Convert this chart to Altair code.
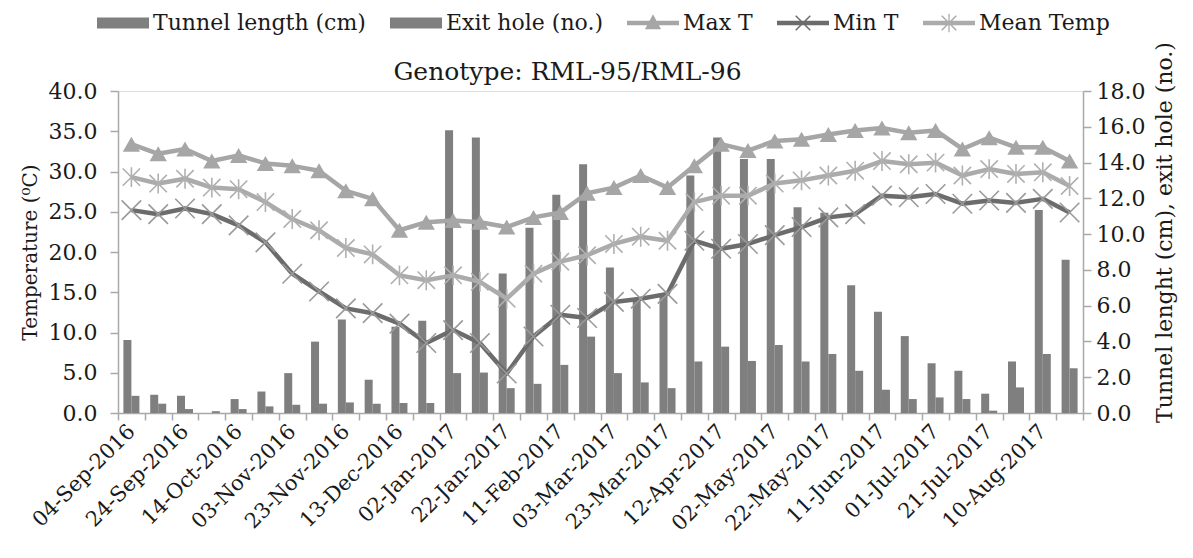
import json
import altair as alt
import pandas as pd

# ---------------- data ----------------
dates = [
    "04-Sep-2016", "14-Sep-2016", "24-Sep-2016", "04-Oct-2016", "14-Oct-2016", "24-Oct-2016",
    "03-Nov-2016", "13-Nov-2016", "23-Nov-2016", "03-Dec-2016", "13-Dec-2016", "23-Dec-2016",
    "02-Jan-2017", "12-Jan-2017", "22-Jan-2017", "01-Feb-2017", "11-Feb-2017", "21-Feb-2017",
    "03-Mar-2017", "13-Mar-2017", "23-Mar-2017", "02-Apr-2017", "12-Apr-2017", "22-Apr-2017",
    "02-May-2017", "12-May-2017", "22-May-2017", "01-Jun-2017", "11-Jun-2017", "21-Jun-2017",
    "01-Jul-2017", "11-Jul-2017", "21-Jul-2017", "31-Jul-2017", "10-Aug-2017", "20-Aug-2017",
]
labeled_dates = [
    "04-Sep-2016", "24-Sep-2016", "14-Oct-2016", "03-Nov-2016", "23-Nov-2016", "13-Dec-2016",
    "02-Jan-2017", "22-Jan-2017", "11-Feb-2017", "03-Mar-2017", "23-Mar-2017", "12-Apr-2017",
    "02-May-2017", "22-May-2017", "11-Jun-2017", "01-Jul-2017", "21-Jul-2017", "10-Aug-2017",
]
max_t = [33.4, 32.2, 32.8, 31.3, 32.0, 31.0, 30.7, 30.1, 27.6, 26.6, 22.7, 23.7,
         23.9, 23.7, 23.1, 24.3, 24.9, 27.3, 28.0, 29.5, 28.0, 30.7, 33.4, 32.6,
         33.8, 34.0, 34.6, 35.1, 35.4, 34.8, 35.1, 32.8, 34.2, 33.0, 33.0, 31.3]
min_t = [25.2, 24.7, 25.4, 24.7, 23.3, 21.2, 17.3, 15.1, 13.0, 12.4, 11.1, 8.7,
         10.3, 8.7, 4.9, 9.5, 12.2, 11.8, 13.8, 14.2, 14.8, 21.4, 20.4, 21.0,
         22.1, 23.1, 24.3, 24.7, 27.0, 26.8, 27.2, 26.0, 26.4, 26.1, 26.6, 24.9]
mean_t = [29.3, 28.5, 29.1, 28.0, 27.8, 26.2, 24.1, 22.7, 20.5, 19.7, 17.1, 16.5,
          17.1, 16.3, 14.2, 17.3, 18.8, 19.6, 21.0, 21.9, 21.4, 26.2, 27.0, 27.0,
          28.5, 28.9, 29.5, 30.1, 31.3, 30.9, 31.1, 29.5, 30.3, 29.7, 29.9, 28.2]
tunnel_len = [4.08, 1.02, 0.96, 0.0, 0.78, 1.20, 2.23, 3.99, 5.23, 1.86, 4.82, 5.16,
              15.8, 15.4, 7.8, 10.35, 12.2, 13.9, 8.13, 6.31, 6.59, 13.27, 15.4, 14.2,
              14.2, 11.5, 11.2, 7.14, 5.66, 4.30, 2.78, 2.36, 1.08, 2.88, 11.35, 8.57]
exit_hole = [0.96, 0.52, 0.22, 0.10, 0.22, 0.37, 0.46, 0.52, 0.59, 0.52, 0.56, 0.56,
             2.23, 2.26, 1.39, 1.63, 2.69, 4.27, 2.23, 1.71, 1.39, 2.88, 3.71, 2.91,
             3.80, 2.88, 3.30, 2.36, 1.30, 0.78, 0.87, 0.78, 0.13, 1.43, 3.30, 2.50]
temp_ticks = [0, 5, 10, 15, 20, 25, 30, 35, 40]
bar_ticks = [0, 2, 4, 6, 8, 10, 12, 14, 16, 18]

bar_names = ["Tunnel length (cm)", "Exit hole (no.)"]
line_names = ["Max T", "Min T", "Mean Temp"]
series_names = bar_names + line_names
series_colors = ["#7f7f7f", "#7f7f7f", "#a6a6a6", "#6c6c6c", "#ababab"]

bars_df = pd.DataFrame({
    "date": dates + dates,
    "series": [bar_names[0]] * len(dates) + [bar_names[1]] * len(dates),
    "value": tunnel_len + exit_hole,
})
lines_df = pd.DataFrame({
    "date": dates * 3,
    "series": [line_names[0]] * len(dates) + [line_names[1]] * len(dates) + [line_names[2]] * len(dates),
    "value": max_t + min_t + mean_t,
})

# ---------------- style ----------------
FONT = "DejaVu Serif"
TXT = "#1a1a1a"
AXC = "#a9a9a9"

label_expr = "indexof(" + json.dumps(labeled_dates) + ", datum.value) >= 0 ? datum.value : ''"

x_enc = alt.X(
    "date:N", sort=dates, title=None,
    scale=alt.Scale(paddingInner=0, paddingOuter=0),
    axis=alt.Axis(
        labelExpr=label_expr, labelAngle=315, labelAlign="right", labelBaseline="middle",
        labelPadding=8, labelFont=FONT, labelFontSize=21, labelColor=TXT,
        labelOverlap=False, labelBound=False, labelLimit=300,
        tickBand="extent", tickSize=7, tickColor=AXC, tickWidth=1.5,
        domainColor=AXC, domainWidth=1.5, grid=False,
    ),
)

y_temp = alt.Y(
    "value:Q",
    scale=alt.Scale(domain=[0, 40], nice=False),
    axis=alt.Axis(
        orient="left", values=temp_ticks, format=".1f", title="Temperature (⁰C)",
        titleFont=FONT, titleFontSize=20, titleFontWeight="normal", titleColor=TXT,
        titlePadding=8, labelFont=FONT, labelFontSize=22, labelColor=TXT, labelPadding=13,
        tickSize=8, tickColor=AXC, tickWidth=1.5, domainColor=AXC, domainWidth=1.5, grid=False,
    ),
)

y_bar = alt.Y(
    "value:Q",
    scale=alt.Scale(domain=[0, 18], nice=False),
    axis=alt.Axis(
        orient="right", values=bar_ticks, format=".1f", title="Tunnel lenght (cm), exit hole (no.)",
        titleFont=FONT, titleFontSize=22, titleFontWeight="normal", titleColor=TXT,
        titleAngle=270, titleBaseline="top", titlePadding=10, titleY=141,
        labelFont=FONT, labelFontSize=22, labelColor=TXT, labelPadding=5,
        tickSize=8, tickColor=AXC, tickWidth=1.5, domainColor=AXC, domainWidth=1.5, grid=False,
    ),
)

# legend symbols (unit box = symbol width)
p_bar = "M-1,-0.21H1V0.21H-1Z"
p_max = "M-1,-0.09H1V0.09H-1ZM0,-0.34L0.31,0.24H-0.31Z"
p_min = ("M-1,-0.09H1V0.09H-1Z"
         "M-0.3,-0.26L-0.26,-0.3L0.3,0.26L0.26,0.3Z"
         "M0.26,-0.3L0.3,-0.26L-0.26,0.3L-0.3,0.26Z")
p_mean = ("M-1,-0.09H1V0.09H-1Z"
          "M-0.3,-0.26L-0.26,-0.3L0.3,0.26L0.26,0.3Z"
          "M0.26,-0.3L0.3,-0.26L-0.26,0.3L-0.3,0.26Z"
          "M-0.025,-0.36L0.025,-0.36L0.025,0.36L-0.025,0.36Z")
shape_expr = (
    f"datum.value === 'Max T' ? '{p_max}' : "
    f"datum.value === 'Min T' ? '{p_min}' : "
    f"datum.value === 'Mean Temp' ? '{p_mean}' : '{p_bar}'"
)

legend = alt.Legend(
    title=None, orient="none", legendX=-21, legendY=-94, direction="horizontal", columns=5,
    symbolSize=2704, labelFont=FONT, labelFontSize=22, labelColor=TXT, labelOffset=4,
    columnPadding=24, padding=0, offset=0, labelLimit=400,
    symbolType={"expr": shape_expr},
    symbolFillColor={"expr": "scale('color', datum.value)"},
    symbolStrokeWidth=0, symbolOpacity=1,
)

color_enc = alt.Color(
    "series:N", scale=alt.Scale(domain=series_names, range=series_colors), legend=legend
)

bars = alt.Chart(bars_df).mark_bar().encode(
    x=x_enc,
    xOffset=alt.XOffset("series:N", sort=bar_names,
                        scale=alt.Scale(paddingInner=0, paddingOuter=0.675)),
    y=y_bar,
    color=color_enc,
)

lines = alt.Chart(lines_df).mark_line(strokeWidth=4.5, strokeJoin="round").encode(
    x=x_enc, y=y_temp, color=color_enc, detail="series:N",
)

x_marker = "M-1,-1L1,1M-1,1L1,-1"
ast_marker = "M-1,-1L1,1M-1,1L1,-1M0,-1.15L0,1.15"

tri = alt.Chart(lines_df).transform_filter(alt.datum.series == "Max T").mark_point(
    shape="triangle-up", filled=True, size=300, color="#a6a6a6", opacity=1
).encode(x=x_enc, y=y_temp)

xs = alt.Chart(lines_df).transform_filter(alt.datum.series == "Min T").mark_point(
    shape=x_marker, filled=False, size=380, color="#9a9a9a", strokeWidth=1.6, opacity=1
).encode(x=x_enc, y=y_temp)

stars = alt.Chart(lines_df).transform_filter(alt.datum.series == "Mean Temp").mark_point(
    shape=ast_marker, filled=False, size=300, color="#b0b0b0", strokeWidth=1.6, opacity=1
).encode(x=x_enc, y=y_temp)

temps = alt.layer(lines, xs, stars, tri)

chart = alt.layer(bars, temps).resolve_scale(y="independent").properties(
    width=965, height=322,
    title=alt.Title("Genotype: RML-95/RML-96", font=FONT, fontSize=25, fontWeight="normal",
                    color=TXT, anchor="middle", frame="group", dx=-33, dy=94, offset=6),
    autosize=alt.AutoSizeParams(type="none"),
    padding={"left": 110, "top": 83, "right": 102, "bottom": 137},
).configure_view(stroke=None).configure(background="white")

chart.save("out.html", embed_options={"renderer": "svg", "actions": False})
